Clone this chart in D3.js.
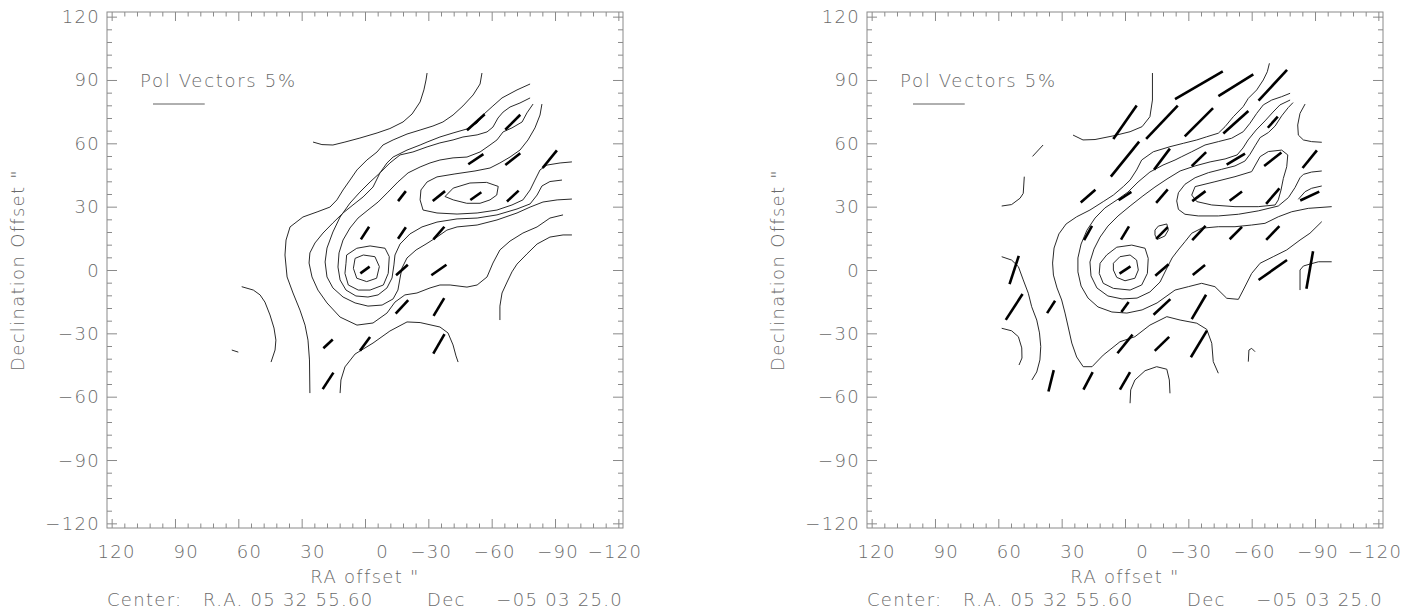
<!DOCTYPE html>
<html><head><meta charset="utf-8">
<script src="https://cdn.jsdelivr.net/npm/d3@7"></script>
<style>
body{margin:0;background:#fff}
svg text{font-family:"DejaVu Sans",sans-serif;font-size:18px;fill:#6a6a6a;letter-spacing:1.3px;font-weight:300}
</style>
</head><body>
<svg id="chart" width="1427" height="616"></svg>
<script>
// ---------- axis / labels ----------
const majorTicks = [120, 90, 60, 30, 0, -30, -60, -90, -120];
const minorStep = 6;
const axisExtent = 122.2;             // arcsec shown on each side of centre
const xTitle = 'RA offset "';
const yTitle = 'Declination Offset "';
const legendText = "Pol Vectors 5%";
const legendPercent = 5;
const arcsecPerPercent = 4.9;         // vector length scale
const centerLabel = ["Center:", "R.A. 05 32 55.60", "Dec", "\u221205 03 25.0"];

// ---------- left panel: contours [RA offset, Dec offset] ----------
const L_A1 = [[24.6,60.6],[20.4,59.4],[15.2,59.2],[9.5,60.6],[2.4,62.5],[-5.7,64.9],[-11.8,67.0],[-18.0,70.1],[-22.3,73.9],[-26.1,79.6],[-27.9,85.3],[-28.9,90.0],[-29.4,93.3]];
const L_b = [[58.4,-7.9],[52.9,-9.5],[49.7,-11.8],[47.4,-15.2],[45.0,-21.3],[43.1,-27.5],[42.2,-33.2],[42.6,-37.9],[44.5,-43.6]];
const L_c = [[63.1,-37.9],[60.0,-38.9]];
const L_A2 = [[-55.4,93.3],[-54.5,88.1],[-51.2,82.9],[-46.4,77.7],[-41.7,73.4],[-36.9,70.1],[-32.2,68.2],[-26.1,66.3],[-19.9,64.4],[-13.3,61.6],[-8.5,59.2],[-5.7,55.9],[-0.9,52.1],[3.8,47.4],[7.1,42.6],[10.4,37.9],[13.3,33.2],[16.6,29.8],[22.7,27.5],[29.4,25.1],[35.5,20.4],[37.4,14.2],[37.9,7.1],[36.9,-3.3],[34.1,-10.9],[30.8,-19.0],[28.4,-26.1],[27.0,-33.2],[26.3,-42.6],[26.1,-58.3]];
const L_f = [[11.8,-58.3],[11.4,-52.1],[9.5,-45.9],[4.7,-39.8],[-3.8,-34.6],[-11.8,-28.9],[-19.9,-24.6],[-26.1,-24.9],[-35.5,-27.0],[-39.3,-29.8],[-41.7,-35.5],[-43.1,-40.7],[-44.1,-43.6]];
const L_d = [[-63.9,-23.7],[-63.9,-17.1],[-64.9,-10.9],[-67.3,-5.7],[-69.6,-0.9],[-72.0,2.8],[-76.7,7.6],[-81.5,12.3],[-87.6,15.6],[-93.8,16.6],[-98.0,16.6]];
const L_B = [[-78.2,88.1],[-72.0,85.3],[-64.9,81.5],[-60.6,77.7],[-56.4,73.9],[-53.1,69.6],[-48.3,66.8],[-41.7,64.9],[-35.5,63.0],[-29.4,60.6],[-26.1,59.2],[-19.9,56.8],[-13.3,53.5],[-10.4,50.7],[-7.1,46.0],[-3.8,39.3],[0.9,34.6],[5.7,30.8],[10.4,27.0],[15.2,22.3],[19.9,17.5],[23.7,12.8],[26.1,8.1],[26.5,3.3],[25.1,-3.3],[22.3,-9.5],[18.0,-15.6],[11.8,-22.3],[3.8,-26.1],[-3.8,-25.1],[-10.4,-20.4],[-14.2,-15.2],[-18.9,-11.8],[-24.6,-10.9],[-30.8,-8.5],[-35.5,-7.1],[-40.3,-7.1],[-48.3,-8.1],[-53.1,-7.1],[-57.8,-3.3],[-60.6,3.3],[-63.9,9.5],[-68.7,13.7],[-74.8,17.5],[-81.5,20.4],[-87.6,24.6],[-93.8,26.1]];
const L_C = [[-78.2,81.5],[-73.4,79.1],[-68.7,77.2],[-65.4,74.8],[-63.0,72.0],[-60.6,67.7],[-57.8,65.4],[-53.1,64.0],[-46.4,63.0],[-41.7,61.6],[-35.5,60.2],[-29.4,58.3],[-22.7,55.9],[-16.6,54.5],[-11.8,50.7],[-7.1,46.0],[-2.4,41.7],[2.4,36.9],[7.1,31.7],[11.8,25.1],[15.2,18.0],[18.0,10.4],[18.9,3.8],[18.0,-3.3],[15.2,-8.5],[10.4,-12.8],[4.7,-15.6],[-1.4,-17.1],[-8.1,-16.6],[-13.3,-13.7],[-15.6,-9.5],[-16.6,-3.8],[-17.5,0.9],[-19.9,5.7],[-24.2,9.5],[-28.9,12.3],[-34.1,15.6],[-38.8,18.9],[-43.6,20.4],[-53.1,21.3],[-62.5,23.7],[-72.0,27.0],[-78.2,29.8],[-84.3,32.2],[-91.0,33.2],[-98.0,33.6]];
const L_D = [[-79.6,78.6],[-76.7,74.4],[-74.4,70.1],[-69.6,67.3],[-65.4,65.4],[-62.5,61.6],[-59.2,59.2],[-54.5,55.9],[-48.3,53.5],[-41.7,53.1],[-35.5,52.1],[-30.8,50.7],[-26.1,48.8],[-20.4,46.0],[-15.6,41.7],[-10.9,36.9],[-6.2,32.2],[-1.4,28.4],[3.3,24.6],[7.1,19.9],[10.4,14.2],[12.3,8.1],[12.8,1.4],[11.8,-4.7],[9.0,-9.5],[4.3,-12.3],[-1.4,-12.8],[-6.2,-11.8],[-10.4,-8.5],[-12.8,-3.8],[-13.7,2.4],[-14.2,7.1],[-16.6,12.3],[-21.3,17.1],[-27.0,20.4],[-34.1,22.7],[-43.6,24.2],[-53.1,24.6],[-62.5,26.1],[-72.0,28.9],[-78.2,31.3],[-81.5,35.5],[-83.8,39.8],[-87.6,41.9],[-93.3,42.6]];
const L_E = [[8.7,7.1],[3.9,10.3],[-2.4,11.4],[-9.5,10.3],[-11.5,6.3],[-11.0,-1.6],[-8.7,-7.1],[-2.4,-9.5],[3.2,-9.5],[7.9,-7.1],[9.5,-1.6],[9.0,3.2],[8.7,7.1]];
const L_F = [[4.7,5.5],[0.8,7.1],[-4.7,6.3],[-6.8,1.6],[-5.5,-3.9],[-0.8,-5.5],[3.9,-3.9],[5.5,0.8],[4.7,5.5]];
const L_G = [[-83.8,78.6],[-82.9,73.4],[-80.5,67.3],[-77.2,61.6],[-73.4,56.8],[-68.7,53.5],[-63.9,50.7],[-59.2,48.3],[-52.1,46.9],[-42.6,45.5],[-34.1,44.1],[-29.4,41.7],[-26.5,37.9],[-26.1,33.2],[-27.5,28.4],[-34.1,27.0],[-43.6,26.5],[-53.1,27.0],[-62.5,28.4],[-69.6,30.8],[-74.8,33.2],[-78.2,37.9],[-80.5,42.6],[-82.9,47.4],[-86.2,49.7],[-92.4,50.7],[-98.0,51.2]];
const L_H = [[-37.9,34.8],[-41.8,38.8],[-49.7,41.2],[-57.6,41.5],[-63.1,39.6],[-62.4,35.5],[-59.2,33.2],[-54.5,31.6],[-48.2,31.6],[-41.8,33.2],[-37.9,34.8]];
const leftContours = [L_A1, L_b, L_c, L_A2, L_f, L_d, L_B, L_C, L_D, L_E, L_F, L_G, L_H];

// ---------- left panel: polarization vectors [RA, Dec, P(%), PA(deg)] ----------
const leftVectors = [
  [-52.5,70,2.3,132],[-70,70,2.05,135],
  [-52.5,52.5,1.76,124],[-70,52.5,1.84,128],[-87.5,52.5,2.2,141],
  [-17.5,35,1.22,142],[-35,35,1.53,129],[-52.5,35,1.3,125],[-70,35,1.55,133],
  [0,17.5,1.46,147],[-17.5,17.5,1.35,146],[-35,17.5,1.62,139],
  [0,0,1.11,126],[-17.5,0,1.53,132],[-35,0,1.78,125],
  [-17.5,-17.5,1.78,137],[-35,-17.5,2.0,149],
  [17.5,-35,1.24,133],[0,-35,1.66,144],[-35,-35,2.17,150],
  [17.5,-52.5,1.9,147]
];

// ---------- right panel: contours ----------
const R_A1 = [[24.6,63.9],[19.9,61.6],[14.2,61.8],[5.7,63.5],[-2.4,65.5],[-8.1,67.9],[-11.8,72.6],[-13.0,80.5],[-13.0,93.3]];
const R_dash = [[43.8,53.8],[38.8,59.2]];
const R_l1 = [[58.4,30.3],[53.7,31.0],[49.7,34.0],[48.2,36.3],[47.7,44.2]];
const R_l2 = [[58.4,6.3],[53.7,4.7],[50.5,1.6],[48.2,-4.7],[45.8,-11.0],[44.2,-17.4],[41.8,-23.7],[40.5,-29.8],[39.9,-36.3],[40.3,-42.6],[41.8,-48.3],[44.1,-52.1]];
const R_l3 = [[58.4,-27.6],[53.7,-28.8],[50.5,-31.6],[48.9,-36.9],[48.8,-41.7],[50.2,-45.0]];
const R_outer = [[-68.4,97.9],[-67.4,93.9],[-65.5,90.0],[-62.4,85.3],[-58.4,81.3],[-56.0,77.4],[-51.3,72.6],[-47.4,67.9],[-44.2,64.8],[-38.7,63.1],[-34.0,61.6],[-27.6,60.0],[-21.3,58.4],[-13.4,56.0],[-7.9,52.1],[-5.5,47.4],[-2.4,42.6],[0.8,39.5],[5.5,35.5],[10.3,32.4],[16.6,28.4],[22.9,25.2],[27.9,21.8],[31.3,17.1],[33.6,10.4],[34.3,3.3],[33.9,-2.4],[32.2,-8.5],[30.0,-14.2],[28.4,-20.4],[26.9,-27.0],[25.2,-34.6],[22.9,-41.2],[19.8,-45.8],[15.6,-45.8],[10.3,-40.3],[2.4,-34.0],[-4.7,-31.6],[-11.8,-26.1],[-19.8,-22.1],[-26.1,-23.7],[-34.0,-25.2],[-38.7,-28.1],[-41.1,-34.7],[-41.8,-43.4],[-44.2,-48.9]];
const R_below = [[-2.4,-63.1],[-2.7,-56.8],[-4.7,-52.1],[-9.5,-47.7],[-15.0,-45.8],[-19.8,-47.0],[-21.0,-52.1],[-21.3,-58.4]];
const R_tiny = [[-58.4,-43.4],[-58.7,-37.9],[-60.0,-37.1],[-61.6,-38.7]];
const R_r1 = [[-85.3,78.6],[-82.9,74.2],[-81.8,68.7],[-82.1,63.9],[-84.5,61.6],[-88.4,60.8],[-93.2,60.5]];
const R_r2 = [[-82.9,-9.5],[-82.9,0],[-84.5,1.9],[-87.6,2.8],[-91.6,3.9],[-97.9,3.9]];
const R_sc = [[-82.1,33.5],[-85.3,37.1],[-88.4,38.7],[-93.2,39.8]];
const R_B = [[-78.2,83.7],[-74.2,82.1],[-69.5,80.5],[-65.5,78.2],[-62.4,74.2],[-59.2,69.5],[-56.0,65.5],[-50.5,62.4],[-44.2,60.8],[-37.9,59.2],[-31.6,56.0],[-26.9,53.7],[-23.7,52.1],[-18.0,49.7],[-11.8,46.4],[-6.2,41.7],[-1.4,36.9],[3.8,33.2],[9.5,29.4],[14.2,24.6],[18.0,18.9],[20.8,12.3],[22.3,5.7],[22.3,-0.9],[20.8,-7.6],[17.5,-13.3],[12.8,-17.5],[6.2,-19.9],[-0.9,-20.4],[-8.1,-18.9],[-15.2,-15.6],[-23.7,-9.5],[-30.0,-7.9],[-36.3,-6.3],[-42.6,-7.9],[-48.2,-13.4],[-53.7,-13.9],[-56.0,-9.5],[-60.0,-1.6],[-64.0,3.2],[-70.2,6.3],[-76.6,9.5],[-82.9,14.2],[-87.6,17.4],[-93.2,22.9]];
const R_C = [[-97.9,30.0],[-86.8,29.2],[-79.0,27.6],[-72.6,25.2],[-66.3,22.1],[-60.0,21.3],[-52.1,20.5],[-44.2,20.5],[-36.3,19.8],[-31.6,17.4],[-28.4,13.4],[-25.2,9.5],[-22.3,5.7],[-19.4,0],[-16.6,-5.7],[-11.8,-10.4],[-5.7,-13.3],[1.4,-13.7],[8.1,-12.3],[13.3,-8.5],[16.1,-2.8],[16.6,3.8],[14.7,9.9],[11.8,15.6],[8.1,20.8],[3.3,25.6],[-2.4,30.3],[-8.5,35.1],[-14.2,39.3],[-19.9,43.1],[-26.1,46.9],[-33.2,49.3],[-40.3,51.2],[-47.4,52.6],[-53.1,54.5],[-55.9,57.8],[-58.3,61.6],[-62.1,66.3],[-66.3,70.6],[-70.1,74.8],[-73.4,78.2],[-78.2,80.5]];
const R_G = [[-79.6,79.3],[-77.3,76.9],[-74.2,73.0],[-71.1,68.2],[-67.9,65.1],[-64.0,62.7],[-61.6,58.8],[-59.2,54.8],[-56.8,51.6],[-52.1,49.3],[-45.8,47.7],[-39.5,46.1],[-33.2,43.7],[-28.4,40.6],[-25.3,36.6],[-24.5,32.7],[-25.3,28.7],[-28.4,26.4],[-34.7,25.6],[-44.2,25.6],[-53.7,26.4],[-63.1,28.0],[-72.6,30.3],[-77.4,34.3],[-80.5,39.0],[-82.9,43.7],[-84.5,45.3],[-88.4,46.4],[-93.2,46.9]];
const R_H = [[-33.2,39.5],[-42.6,41.8],[-52.1,44.2],[-60.0,46.6],[-64.0,53.7],[-67.9,56.1],[-74.2,56.8],[-77.1,54.5],[-76.6,48.9],[-75.0,43.4],[-73.9,37.9],[-72.6,33.2],[-71.1,30.8],[-63.1,30.0],[-52.1,30.0],[-41.1,30.8],[-34.0,32.4],[-31.6,35.5],[-33.2,39.5]];
const R_E = [[8.7,7.1],[3.9,10.8],[-3.2,11.8],[-9.5,10.3],[-11.0,5.5],[-10.6,-1.6],[-7.9,-7.1],[-2.4,-9.5],[5.5,-8.7],[10.3,-6.3],[12.2,-1.6],[11.8,3.2],[8.7,7.1]];
const R_F = [[5.5,3.2],[2.4,6.3],[-2.4,7.1],[-5.5,4.7],[-6.3,0],[-4.7,-3.9],[0,-5.1],[3.9,-3.5],[5.5,0],[5.5,3.2]];
const R_k = [[-14.2,18.9],[-15.8,20.8],[-19.8,21.8],[-20.5,18.9],[-18.9,16.1],[-15.3,14.5],[-14.2,16.6],[-14.2,18.9]];
const rightContours = [R_A1, R_dash, R_l1, R_l2, R_l3, R_outer, R_below, R_tiny, R_r1, R_r2, R_sc, R_B, R_C, R_G, R_H, R_E, R_F, R_k];

// ---------- right panel: polarization vectors [RA, Dec, P(%), PA(deg)] ----------
const rightVectors = [
  [-35,87.5,5.33,120],[-52.5,87.5,3.98,122],[-70,87.5,4.04,137],
  [0,70,3.94,145],[-17.5,70,4.44,136.5],[-35,70,3.87,135],[-52.5,70,3.26,132],[-70,70,1.44,138],
  [0,52.5,4.35,141],[-17.5,52.5,2.55,143],[-35,52.5,1.94,134],[-52.5,52.5,2.07,121],[-70,52.5,2.12,128],[-87.5,52.5,2.2,141],
  [17.5,35,1.88,131],[0,35,1.47,123],[-17.5,35,1.71,139],[-35,35,1.61,127],[-52.5,35,1.5,127],[-70,35,1.98,139.5],[-87.5,35,2.03,115],
  [17.5,17.5,1.58,151],[0,17.5,1.5,149],[-17.5,17.5,1.6,135],[-35,17.5,1.89,137],[-52.5,17.5,1.69,135],[-70,17.5,1.84,136],
  [52.5,0,2.88,162],[0,0,1.28,124],[-17.5,0,1.71,131],[-35,0,1.53,129],[-70,0,3.36,125],[-87.5,0,3.69,170],
  [52.5,-17.5,2.98,147],[35,-17.5,1.42,147],[0,-17.5,1.2,144],[-17.5,-17.5,2.22,133],[-35,-17.5,2.73,149.5],
  [0,-35,2.32,141],[-17.5,-35,1.94,134],[-35,-35,3.01,149],
  [35,-52.5,2.13,166],[17.5,-52.5,1.9,152],[0,-52.5,1.96,150]
];

// ---------- drawing ----------
const svg = d3.select("#chart");
const size = 516, top0 = 12;
const panels = [
  {x0: 107, contours: leftContours, vectors: leftVectors},
  {x0: 867, contours: rightContours, vectors: rightVectors}
];
const minorTicks = d3.range(-120, 121, minorStep).filter(v => v % 30 !== 0);
const fmt = d => d < 0 ? "\u2212" + Math.abs(d) : String(d);
const axisColor = "#8a8a8a";

panels.forEach(p => {
  const g = svg.append("g").attr("transform", `translate(${p.x0},${top0})`);
  const x = d3.scaleLinear().domain([axisExtent, -axisExtent]).range([0, size]);
  const y = d3.scaleLinear().domain([axisExtent, -axisExtent]).range([0, size]);

  function styleAxis(sel) {
    sel.select(".domain").remove();
    sel.selectAll("line").attr("stroke", axisColor).attr("stroke-width", 1);
  }
  const axes = [
    [d3.axisBottom, `translate(0,${size})`, -9, -4.5],
    [d3.axisTop, `translate(0,0)`, -9, -4.5],
    [d3.axisLeft, `translate(0,0)`, -10, -5],
    [d3.axisRight, `translate(${size},0)`, -10, -5]
  ];
  axes.forEach(([ax, tr, maj, mnr]) => {
    const sc = (ax === d3.axisBottom || ax === d3.axisTop) ? x : y;
    g.append("g").attr("transform", tr)
      .call(ax(sc).tickValues(minorTicks).tickSize(mnr).tickFormat(""))
      .call(styleAxis);
    const a = g.append("g").attr("transform", tr)
      .call(ax(sc).tickValues(majorTicks).tickSize(maj).tickSizeOuter(0).tickFormat(""));
    a.call(styleAxis);
    a.selectAll("text").remove();
  });

  g.append("g").selectAll("text").data(majorTicks).join("text")
    .attr("x", d => x(d) + 24).attr("y", size + 30)
    .attr("text-anchor", "end").text(fmt);
  g.append("g").selectAll("text").data(majorTicks).join("text")
    .attr("x", -7).attr("y", d => y(d) + 6.5)
    .attr("text-anchor", "end").text(fmt);

  g.append("rect").attr("x", 0).attr("y", 0).attr("width", size).attr("height", size)
    .attr("fill", "none").attr("stroke", axisColor).attr("stroke-width", 1);

  g.append("text").attr("x", size / 2).attr("y", size + 55).attr("text-anchor", "middle").text(xTitle);
  g.append("text").attr("transform", `translate(-83,${size / 2}) rotate(-90)`)
    .attr("text-anchor", "middle").text(yTitle);
  const cy = size + 78;
  g.append("text").attr("x", 0).attr("y", cy).text(centerLabel[0]);
  g.append("text").attr("x", 96).attr("y", cy).text(centerLabel[1]);
  g.append("text").attr("x", 320).attr("y", cy).text(centerLabel[2]);
  g.append("text").attr("x", size).attr("y", cy).attr("text-anchor", "end").text(centerLabel[3]);

  g.append("text").attr("x", 33).attr("y", 75).style("letter-spacing", "1.7px").text(legendText);
  const lx0 = 46, unit = x(0) - x(arcsecPerPercent);
  g.append("line").attr("x1", lx0).attr("x2", lx0 + unit * legendPercent)
    .attr("y1", 92).attr("y2", 92).attr("stroke", "#606060").attr("stroke-width", 1);

  const line = d3.line().x(d => x(d[0])).y(d => y(d[1]));
  g.append("g").selectAll("path").data(p.contours).join("path")
    .attr("d", line).attr("fill", "none").attr("stroke", "#2a2a2a").attr("stroke-width", 1);

  g.append("g").selectAll("line").data(p.vectors).join("line")
    .each(function(v) {
      const [ra, dec, pol, pa] = v;
      const half = pol * arcsecPerPercent / 2, t = pa * Math.PI / 180;
      const dra = half * Math.sin(t), ddec = half * Math.cos(t);
      d3.select(this)
        .attr("x1", x(ra - dra)).attr("y1", y(dec - ddec))
        .attr("x2", x(ra + dra)).attr("y2", y(dec + ddec));
    })
    .attr("stroke", "#000").attr("stroke-width", 2.6).attr("stroke-linecap", "butt");
});
</script>
</body></html>
